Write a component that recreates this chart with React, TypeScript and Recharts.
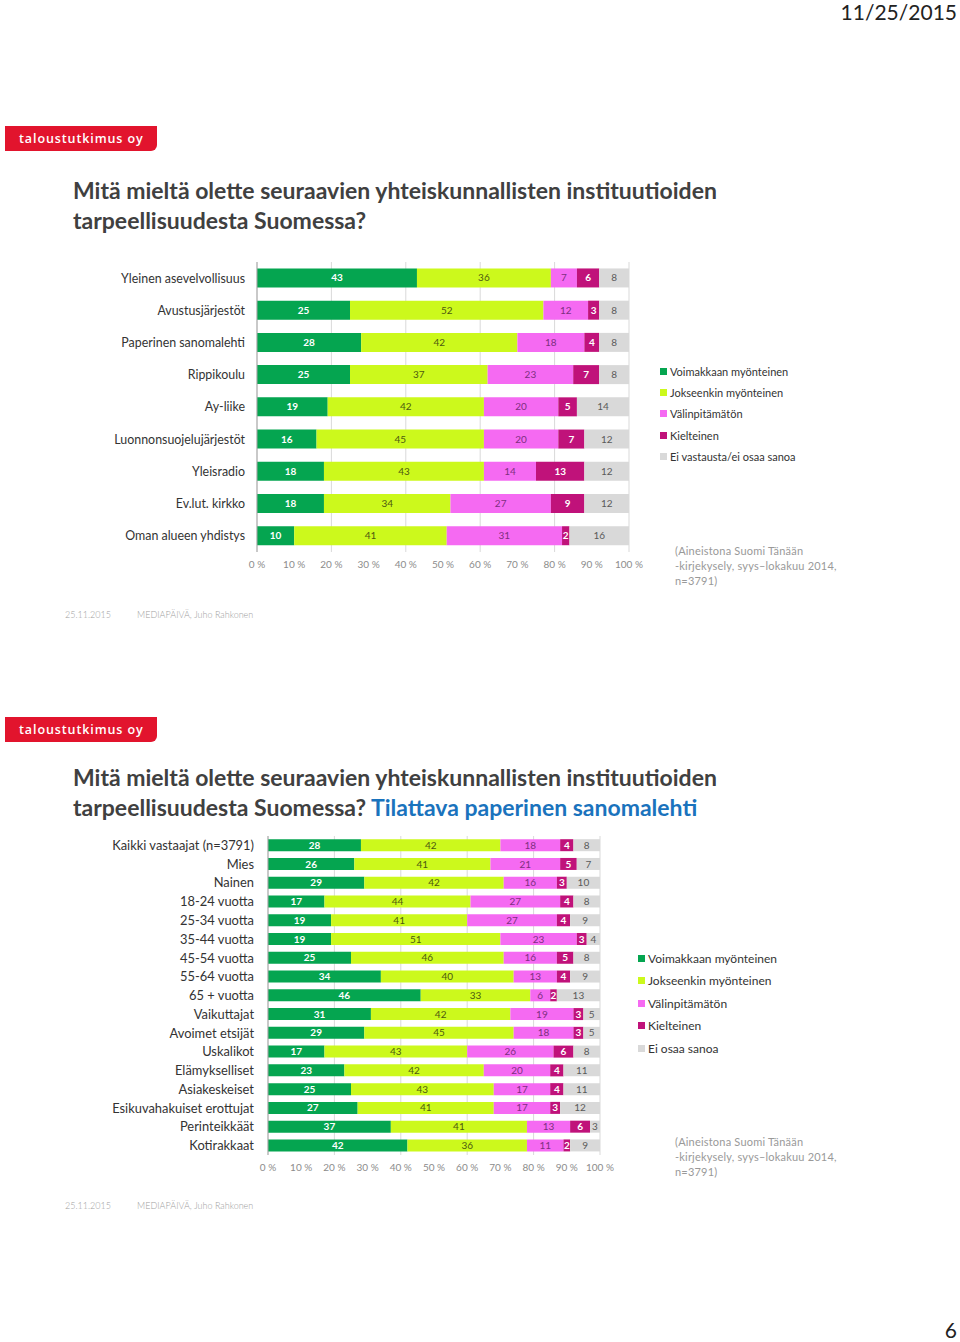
import { Bar, BarChart, CartesianGrid, LabelList, XAxis, YAxis } from 'recharts'

const KEYS = ['voim', 'jok', 'val', 'kiel', 'ei']
const COLORS = ['#05a550', '#ccf91c', '#f56af2', '#c0127a', '#d9d9d9']
const LABEL_COLORS = ['#ffffff', '#4e5a10', '#7d2f80', '#ffffff', '#5a5a5a']
const LEGEND1 = ['Voimakkaan myönteinen', 'Jokseenkin myönteinen', 'Välinpitämätön', 'Kielteinen', 'Ei vastausta/ei osaa sanoa']
const LEGEND2 = ['Voimakkaan myönteinen', 'Jokseenkin myönteinen', 'Välinpitämätön', 'Kielteinen', 'Ei osaa sanoa']
const X_TICKS = [0, 10, 20, 30, 40, 50, 60, 70, 80, 90, 100]

// slide 1: institutions
const INSTITUTIONS = [
  'Yleinen asevelvollisuus',
  'Avustusjärjestöt',
  'Paperinen sanomalehti',
  'Rippikoulu',
  'Ay-liike',
  'Luonnonsuojelujärjestöt',
  'Yleisradio',
  'Ev.lut. kirkko',
  'Oman alueen yhdistys',
]
const INST_VOIM = [43, 25, 28, 25, 19, 16, 18, 18, 10]
const INST_JOK = [36, 52, 42, 37, 42, 45, 43, 34, 41]
const INST_VAL = [7, 12, 18, 23, 20, 20, 14, 27, 31]
const INST_KIEL = [6, 3, 4, 7, 5, 7, 13, 9, 2]
const INST_EI = [8, 8, 8, 8, 14, 12, 12, 12, 16]

// slide 2: paper newspaper by group
const GROUPS = [
  'Kaikki vastaajat (n=3791)',
  'Mies',
  'Nainen',
  '18-24 vuotta',
  '25-34 vuotta',
  '35-44 vuotta',
  '45-54 vuotta',
  '55-64 vuotta',
  '65 + vuotta',
  'Vaikuttajat',
  'Avoimet etsijät',
  'Uskalikot',
  'Elämykselliset',
  'Asiakeskeiset',
  'Esikuvahakuiset erottujat',
  'Perinteikkäät',
  'Kotirakkaat',
]
const GRP_VOIM = [28, 26, 29, 17, 19, 19, 25, 34, 46, 31, 29, 17, 23, 25, 27, 37, 42]
const GRP_JOK = [42, 41, 42, 44, 41, 51, 46, 40, 33, 42, 45, 43, 42, 43, 41, 41, 36]
const GRP_VAL = [18, 21, 16, 27, 27, 23, 16, 13, 6, 19, 18, 26, 20, 17, 17, 13, 11]
const GRP_KIEL = [4, 5, 3, 4, 4, 3, 5, 4, 2, 3, 3, 6, 4, 4, 3, 6, 2]
const GRP_EI = [8, 7, 10, 8, 9, 4, 8, 9, 13, 5, 5, 8, 11, 11, 12, 3, 9]

const FONT = 'Lato, "Open Sans", sans-serif'

function buildRows(cats: string[], series: number[][]) {
  return cats.map((name, i) => {
    const row: Record<string, string | number> = { name }
    KEYS.forEach((k, j) => {
      row[k] = series[j][i]
    })
    return row
  })
}

type ChartProps = {
  cats: string[]
  series: number[][]
  width: number
  height: number
  yWidth: number
  marginRight: number
  gap: string
  labelGap: number
  catFont: number
}

function StackedChart({ cats, series, width, height, yWidth, marginRight, gap, labelGap, catFont }: ChartProps) {
  const data = buildRows(cats, series)
  return (
    <BarChart
      width={width}
      height={height}
      data={data}
      layout="vertical"
      margin={{ top: 0, right: marginRight, bottom: 0, left: 0 }}
      barCategoryGap={gap}
    >
      <CartesianGrid horizontal={false} stroke="#d9d9d9" />
      <XAxis
        type="number"
        domain={[0, 100]}
        ticks={X_TICKS}
        tickFormatter={(v) => `${v} %`}
        axisLine={false}
        tickLine={false}
        tickSize={0}
        tickMargin={9}
        height={30}
        tick={{ fontSize: 10, fill: '#8c8c8c', fontFamily: FONT }}
      />
      <YAxis
        type="category"
        dataKey="name"
        width={yWidth}
        axisLine={{ stroke: '#a6a6a6' }}
        tickLine={false}
        tickSize={0}
        tickMargin={labelGap}
        interval={0}
        tick={{ fontSize: catFont, fill: '#333333', fontFamily: FONT }}
      />
      {KEYS.map((k, i) => (
        <Bar key={k} dataKey={k} stackId="a" fill={COLORS[i]} isAnimationActive={false}>
          <LabelList
            dataKey={k}
            position="center"
            fill={LABEL_COLORS[i]}
            fontSize={10}
            fontWeight={i === 0 || i === 3 ? 700 : 400}
            fontFamily={FONT}
          />
        </Bar>
      ))}
    </BarChart>
  )
}

function Legend({ labels, left, top, step, fontSize }: { labels: string[]; left: number; top: number; step: number; fontSize: number }) {
  return (
    <div style={{ position: 'absolute', left, top, fontFamily: FONT, fontSize, color: '#333' }}>
      {labels.map((l, i) => (
        <div key={l} style={{ height: step, display: 'flex', alignItems: 'center' }}>
          <span style={{ width: 7, height: 7, background: COLORS[i], marginRight: 3, display: 'inline-block' }} />
          {l}
        </div>
      ))}
    </div>
  )
}

function Badge({ top }: { top: number }) {
  return (
    <div
      style={{
        position: 'absolute',
        left: 5,
        top,
        width: 152,
        height: 25,
        background: '#e2142d',
        borderRadius: '0 0 6px 0',
        color: '#fff',
        fontFamily: '"Open Sans", sans-serif',
        fontWeight: 600,
        fontSize: 12.5,
        letterSpacing: 0.9,
        lineHeight: '25px',
        paddingLeft: 14,
        boxSizing: 'border-box',
      }}
    >
      taloustutkimus oy
    </div>
  )
}

function Note({ left, top }: { left: number; top: number }) {
  return (
    <div style={{ position: 'absolute', left, top, fontFamily: FONT, fontSize: 11, lineHeight: '15px', color: '#999999', letterSpacing: 0.2 }}>
      (Aineistona Suomi Tänään
      <br />
      -kirjekysely, syys–lokakuu 2014,
      <br />
      n=3791)
    </div>
  )
}

function Footer({ top }: { top: number }) {
  return (
    <div style={{ position: 'absolute', left: 65, top, fontFamily: FONT, fontSize: 9, color: '#a0a0a0', fontWeight: 300 }}>
      <span>25.11.2015</span>
      <span style={{ position: 'absolute', left: 72, whiteSpace: 'nowrap' }}>MEDIAPÄIVÄ, Juho Rahkonen</span>
    </div>
  )
}

const titleStyle = {
  position: 'absolute' as const,
  left: 73,
  fontFamily: FONT,
  fontWeight: 700,
  fontSize: 23,
  lineHeight: '30px',
  color: '#404040',
  whiteSpace: 'nowrap' as const,
}

export default function App() {
  return (
    <div style={{ position: 'absolute', left: 0, top: 0, width: 960, height: 1342, background: '#fff', overflow: 'hidden' }}>
      <div style={{ position: 'absolute', right: 3, top: 0, lineHeight: '24px', fontFamily: '"Liberation Sans Narrow", Lato, sans-serif', fontSize: 21, color: '#222' }}>
        11/25/2015
      </div>

      <Badge top={126} />
      <div style={{ ...titleStyle, top: 175 }}>
        Mitä mieltä olette seuraavien yhteiskunnallisten instituutioiden
        <br />
        tarpeellisuudesta Suomessa?
      </div>
      <div style={{ position: 'absolute', left: 0, top: 262 }}>
        <StackedChart
          cats={INSTITUTIONS}
          series={[INST_VOIM, INST_JOK, INST_VAL, INST_KIEL, INST_EI]}
          width={660}
          height={320}
          yWidth={257}
          marginRight={31}
          gap="20%"
          labelGap={12}
          catFont={12.4}
        />
      </div>
      <Legend labels={LEGEND1} left={660} top={361} step={21.2} fontSize={11} />
      <Note left={675} top={543} />
      <Footer top={609} />

      <Badge top={717} />
      <div style={{ ...titleStyle, top: 762 }}>
        Mitä mieltä olette seuraavien yhteiskunnallisten instituutioiden
        <br />
        tarpeellisuudesta Suomessa? <span style={{ color: '#1a73bd' }}>Tilattava paperinen sanomalehti</span>
      </div>
      <div style={{ position: 'absolute', left: 0, top: 836 }}>
        <StackedChart
          cats={GROUPS}
          series={[GRP_VOIM, GRP_JOK, GRP_VAL, GRP_KIEL, GRP_EI]}
          width={640}
          height={349}
          yWidth={268}
          marginRight={40}
          gap="17%"
          labelGap={14}
          catFont={12.9}
        />
      </div>
      <Legend labels={LEGEND2} left={638} top={947} step={22.5} fontSize={12} />
      <Note left={675} top={1134} />
      <Footer top={1200} />

      <div style={{ position: 'absolute', right: 3, top: 1318, lineHeight: '24px', fontFamily: '"Liberation Sans Narrow", Lato, sans-serif', fontSize: 21, color: '#222' }}>
        6
      </div>
    </div>
  )
}
